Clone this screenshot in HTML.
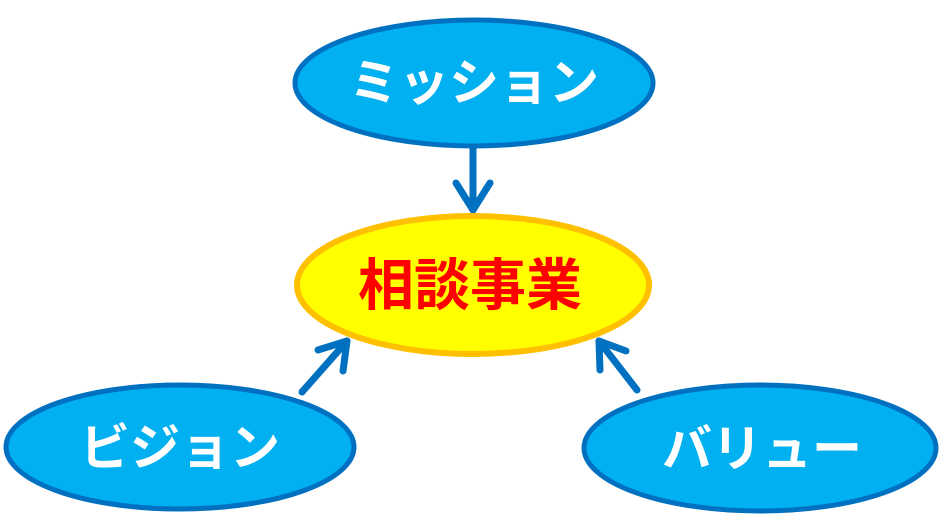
<!DOCTYPE html>
<html><head><meta charset="utf-8"><style>
html,body{margin:0;padding:0;background:#fff;width:940px;height:526px;overflow:hidden}
text{font-family:"Liberation Sans","Noto Sans CJK JP",sans-serif}
</style></head><body>
<svg width="940" height="526" viewBox="0 0 940 526">
<g stroke="#0070c0" stroke-width="7" stroke-linecap="round" stroke-linejoin="round" fill="none">
<line x1="473" y1="148" x2="473" y2="210"/>
<polyline points="456,183 473,210 490,183"/>
<line x1="302" y1="392" x2="347" y2="341"/>
<polyline points="318,350 347,341 343,371"/>
<line x1="637" y1="390" x2="599" y2="341"/>
<polyline points="600,370 599,341 626,351"/>
</g>
<ellipse cx="474" cy="83" rx="179" ry="63" fill="#00b0f0" stroke="#0070c0" stroke-width="5"/>
<ellipse cx="473" cy="285" rx="176" ry="69" fill="#ffff00" stroke="#ffc000" stroke-width="6"/>
<ellipse cx="180" cy="447" rx="174" ry="62" fill="#00b0f0" stroke="#0070c0" stroke-width="5"/>
<ellipse cx="760" cy="448" rx="176" ry="63" fill="#00b0f0" stroke="#0070c0" stroke-width="5"/>
<g font-size="50" font-weight="bold" fill="#fff" text-anchor="middle">
<text x="474" y="100">ミッション</text>
<text x="180" y="465">ビジョン</text>
<text x="762" y="466">バリュー</text>
</g>
<text x="470" y="305" font-size="56" font-weight="bold" fill="#ff0000" text-anchor="middle">相談事業</text>
</svg>
</body></html>
